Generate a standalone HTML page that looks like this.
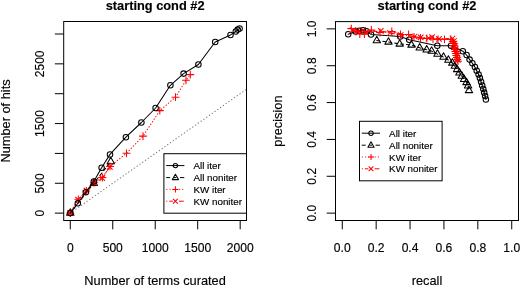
<!DOCTYPE html>
<html><head><meta charset="utf-8"><style>
html,body{margin:0;padding:0;background:#fff;overflow:hidden;}
svg{display:block;will-change:transform;}
text{font-family:"Liberation Sans",sans-serif;fill:#000;stroke:#000;stroke-width:0.15px;}
</style></head><body>
<svg width="520" height="286" viewBox="0 0 520 286">
<rect width="520" height="286" fill="#fff"/>
<clipPath id="c63"><rect x="63.7" y="21.5" width="182.8" height="199.0"/></clipPath>
<g clip-path="url(#c63)">
<path d="M70.28 213.13L257.17 81.77" stroke="#777" stroke-width="1.1" stroke-linecap="round" stroke-dasharray="0.3 3.1"/>
<polyline points="70.3,213.1 93.8,183.3 110.8,161.6" fill="none" stroke="#000" stroke-width="1.05" stroke-linecap="round" stroke-linejoin="round" stroke-dasharray="3 3"/>
<polygon points="70.3,208.82 74,215.24 66.6,215.24" fill="none" stroke="#000" stroke-width="1.05" stroke-linejoin="round"/>
<polygon points="93.8,179.02 97.5,185.44 90.1,185.44" fill="none" stroke="#000" stroke-width="1.05" stroke-linejoin="round"/>
<polygon points="110.8,157.32 114.5,163.74 107.1,163.74" fill="none" stroke="#000" stroke-width="1.05" stroke-linejoin="round"/>
<polyline points="70.3,213.1 78.1,199.6 86.5,190.7 94.1,182.6 102.3,178.2 109.8,166.8" fill="none" stroke="#f00" stroke-width="1.05" stroke-linecap="round" stroke-linejoin="round" stroke-dasharray="0.3 2.9 3 2.9"/>
<path d="M67.55 210.35L73.05 215.85M67.55 215.85L73.05 210.35" stroke="#f00" stroke-width="1.05" fill="none"/>
<path d="M75.35 196.85L80.85 202.35M75.35 202.35L80.85 196.85" stroke="#f00" stroke-width="1.05" fill="none"/>
<path d="M83.75 187.95L89.25 193.45M83.75 193.45L89.25 187.95" stroke="#f00" stroke-width="1.05" fill="none"/>
<path d="M91.35 179.85L96.85 185.35M91.35 185.35L96.85 179.85" stroke="#f00" stroke-width="1.05" fill="none"/>
<path d="M99.55 175.45L105.05 180.95M99.55 180.95L105.05 175.45" stroke="#f00" stroke-width="1.05" fill="none"/>
<path d="M107.05 164.05L112.55 169.55M107.05 169.55L112.55 164.05" stroke="#f00" stroke-width="1.05" fill="none"/>
<polyline points="70.3,213.1 78.3,199.3 86.3,191 94,182.8 102.4,177.5 110,166.4 126.5,153.3 143,136.1 159.8,110.6 175.5,97.2 186,80.3 190.3,74.6" fill="none" stroke="#f00" stroke-width="1.05" stroke-linecap="round" stroke-linejoin="round" stroke-dasharray="0.5 2.6"/>
<path d="M66.41 213.1H74.19M70.3 209.21V216.99" stroke="#f00" stroke-width="1.05" fill="none"/>
<path d="M74.41 199.3H82.19M78.3 195.41V203.19" stroke="#f00" stroke-width="1.05" fill="none"/>
<path d="M82.41 191H90.19M86.3 187.11V194.89" stroke="#f00" stroke-width="1.05" fill="none"/>
<path d="M90.11 182.8H97.89M94 178.91V186.69" stroke="#f00" stroke-width="1.05" fill="none"/>
<path d="M98.51 177.5H106.29M102.4 173.61V181.39" stroke="#f00" stroke-width="1.05" fill="none"/>
<path d="M106.11 166.4H113.89M110 162.51V170.29" stroke="#f00" stroke-width="1.05" fill="none"/>
<path d="M122.61 153.3H130.39M126.5 149.41V157.19" stroke="#f00" stroke-width="1.05" fill="none"/>
<path d="M139.11 136.1H146.89M143 132.21V139.99" stroke="#f00" stroke-width="1.05" fill="none"/>
<path d="M155.91 110.6H163.69M159.8 106.71V114.49" stroke="#f00" stroke-width="1.05" fill="none"/>
<path d="M171.61 97.2H179.39M175.5 93.31V101.09" stroke="#f00" stroke-width="1.05" fill="none"/>
<path d="M182.11 80.3H189.89M186 76.41V84.19" stroke="#f00" stroke-width="1.05" fill="none"/>
<path d="M186.41 74.6H194.19M190.3 70.71V78.49" stroke="#f00" stroke-width="1.05" fill="none"/>
<polyline points="70.3,213.1 77.8,203.3 85.8,192.2 93.8,181.5 101.6,167.8 110,154.4 125.9,137.2 141.4,122.5 155.6,108 170.4,85.3 183.6,73.6 198.4,64.5 215.2,42 230.5,34.9 235.8,31.5 237.7,29.6 239.6,28.5" fill="none" stroke="#000" stroke-width="1.05" stroke-linecap="round" stroke-linejoin="round"/>
<circle cx="70.3" cy="213.1" r="2.75" fill="none" stroke="#000" stroke-width="1.05"/>
<circle cx="77.8" cy="203.3" r="2.75" fill="none" stroke="#000" stroke-width="1.05"/>
<circle cx="85.8" cy="192.2" r="2.75" fill="none" stroke="#000" stroke-width="1.05"/>
<circle cx="93.8" cy="181.5" r="2.75" fill="none" stroke="#000" stroke-width="1.05"/>
<circle cx="101.6" cy="167.8" r="2.75" fill="none" stroke="#000" stroke-width="1.05"/>
<circle cx="110" cy="154.4" r="2.75" fill="none" stroke="#000" stroke-width="1.05"/>
<circle cx="125.9" cy="137.2" r="2.75" fill="none" stroke="#000" stroke-width="1.05"/>
<circle cx="141.4" cy="122.5" r="2.75" fill="none" stroke="#000" stroke-width="1.05"/>
<circle cx="155.6" cy="108" r="2.75" fill="none" stroke="#000" stroke-width="1.05"/>
<circle cx="170.4" cy="85.3" r="2.75" fill="none" stroke="#000" stroke-width="1.05"/>
<circle cx="183.6" cy="73.6" r="2.75" fill="none" stroke="#000" stroke-width="1.05"/>
<circle cx="198.4" cy="64.5" r="2.75" fill="none" stroke="#000" stroke-width="1.05"/>
<circle cx="215.2" cy="42" r="2.75" fill="none" stroke="#000" stroke-width="1.05"/>
<circle cx="230.5" cy="34.9" r="2.75" fill="none" stroke="#000" stroke-width="1.05"/>
<circle cx="235.8" cy="31.5" r="2.75" fill="none" stroke="#000" stroke-width="1.05"/>
<circle cx="237.7" cy="29.6" r="2.75" fill="none" stroke="#000" stroke-width="1.05"/>
<circle cx="239.6" cy="28.5" r="2.75" fill="none" stroke="#000" stroke-width="1.05"/>
</g>
<rect x="63.7" y="21.5" width="182.8" height="199.0" fill="none" stroke="#000" stroke-width="1"/>
<path d="M70.28 220.5V229.3M112.75 220.5V229.3M155.23 220.5V229.3M197.7 220.5V229.3M240.18 220.5V229.3M63.7 213.13H54.9M63.7 183.28H54.9M63.7 153.42H54.9M63.7 123.56H54.9M63.7 93.71H54.9M63.7 63.85H54.9M63.7 34H54.9" stroke="#000" stroke-width="1" fill="none"/>
<text x="70.28" y="252.2" font-size="12.1" text-anchor="middle">0</text>
<text x="112.75" y="252.2" font-size="12.1" text-anchor="middle">500</text>
<text x="155.23" y="252.2" font-size="12.1" text-anchor="middle">1000</text>
<text x="197.7" y="252.2" font-size="12.1" text-anchor="middle">1500</text>
<text x="240.18" y="252.2" font-size="12.1" text-anchor="middle">2000</text>
<text x="43.9" y="213.13" font-size="12.1" text-anchor="middle" transform="rotate(-90 43.9 213.13)">0</text>
<text x="43.9" y="183.28" font-size="12.1" text-anchor="middle" transform="rotate(-90 43.9 183.28)">500</text>
<text x="43.9" y="123.56" font-size="12.1" text-anchor="middle" transform="rotate(-90 43.9 123.56)">1500</text>
<text x="43.9" y="63.85" font-size="12.1" text-anchor="middle" transform="rotate(-90 43.9 63.85)">2500</text>
<text x="155.1" y="9.7" font-size="12.8" text-anchor="middle" font-weight="bold">starting cond #2</text>
<text x="155.1" y="284.6" font-size="12.8" text-anchor="middle">Number of terms curated</text>
<text x="9.9" y="121" font-size="12.8" text-anchor="middle" transform="rotate(-90 9.9 121)">Number of hits</text>
<rect x="163.9" y="153.7" width="82.6" height="59.5" fill="#fff" stroke="#000" stroke-width="1"/>
<path d="M166.2 165.6H184.4" stroke="#000" stroke-width="1"/>
<circle cx="175.4" cy="165.6" r="2.2" fill="none" stroke="#000" stroke-width="1.05"/>
<path d="M166.2 177.6H170.1M173.9 177.6H176.4M180 177.6H184.3" stroke="#000" stroke-width="1"/>
<polygon points="175.4,174.21 178.51,179.6 172.29,179.6" fill="none" stroke="#000" stroke-width="1.05" stroke-linejoin="round"/>
<path d="M166.3 189.4h1M169.5 189.4h1M172.7 189.4h1M175.9 189.4h1M179.1 189.4h1M182.3 189.4h1" stroke="#f00" stroke-width="1"/>
<path d="M172.29 189.4H178.51M175.4 186.29V192.51" stroke="#f00" stroke-width="1.05" fill="none"/>
<path d="M166.3 201.2h1M169.3 201.2H172.8M174.9 201.2h1M179 201.2H183.8" stroke="#f00" stroke-width="1"/>
<path d="M173.06 198.86L177.74 203.54M173.06 203.54L177.74 198.86" stroke="#f00" stroke-width="1.05" fill="none"/>
<text x="193.5" y="169.2" font-size="9.8" text-anchor="start">All iter</text>
<text x="193.5" y="181.2" font-size="9.8" text-anchor="start">All noniter</text>
<text x="193.5" y="193" font-size="9.8" text-anchor="start">KW iter</text>
<text x="193.5" y="204.8" font-size="9.8" text-anchor="start">KW noniter</text>
<clipPath id="c335"><rect x="335.5" y="21.6" width="183.0" height="198.9"/></clipPath>
<g clip-path="url(#c335)">
<polyline points="376.8,40.6 388.5,42 399.7,44 411.5,45 419.7,47.8 426.7,49.8 431.6,51.1 437.5,54.1 443.5,57.1 448.4,60.1 452.3,63 454.8,66.2 457.1,69.5 459.4,72.8 461.8,76.1 464.1,79.3 466.5,82.5 468.1,85.8 469,90.5" fill="none" stroke="#000" stroke-width="1.05" stroke-linecap="round" stroke-linejoin="round" stroke-dasharray="3 3"/>
<polygon points="376.8,36.32 380.5,42.74 373.1,42.74" fill="none" stroke="#000" stroke-width="1.05" stroke-linejoin="round"/>
<polygon points="388.5,37.72 392.2,44.14 384.8,44.14" fill="none" stroke="#000" stroke-width="1.05" stroke-linejoin="round"/>
<polygon points="399.7,39.72 403.4,46.14 396,46.14" fill="none" stroke="#000" stroke-width="1.05" stroke-linejoin="round"/>
<polygon points="411.5,40.72 415.2,47.14 407.8,47.14" fill="none" stroke="#000" stroke-width="1.05" stroke-linejoin="round"/>
<polygon points="419.7,43.52 423.4,49.94 416,49.94" fill="none" stroke="#000" stroke-width="1.05" stroke-linejoin="round"/>
<polygon points="426.7,45.52 430.4,51.94 423,51.94" fill="none" stroke="#000" stroke-width="1.05" stroke-linejoin="round"/>
<polygon points="431.6,46.82 435.3,53.24 427.9,53.24" fill="none" stroke="#000" stroke-width="1.05" stroke-linejoin="round"/>
<polygon points="437.5,49.82 441.2,56.24 433.8,56.24" fill="none" stroke="#000" stroke-width="1.05" stroke-linejoin="round"/>
<polygon points="443.5,52.82 447.2,59.24 439.8,59.24" fill="none" stroke="#000" stroke-width="1.05" stroke-linejoin="round"/>
<polygon points="448.4,55.82 452.1,62.24 444.7,62.24" fill="none" stroke="#000" stroke-width="1.05" stroke-linejoin="round"/>
<polygon points="452.3,58.72 456,65.14 448.6,65.14" fill="none" stroke="#000" stroke-width="1.05" stroke-linejoin="round"/>
<polygon points="454.8,61.92 458.5,68.34 451.1,68.34" fill="none" stroke="#000" stroke-width="1.05" stroke-linejoin="round"/>
<polygon points="457.1,65.22 460.8,71.64 453.4,71.64" fill="none" stroke="#000" stroke-width="1.05" stroke-linejoin="round"/>
<polygon points="459.4,68.52 463.1,74.94 455.7,74.94" fill="none" stroke="#000" stroke-width="1.05" stroke-linejoin="round"/>
<polygon points="461.8,71.82 465.5,78.24 458.1,78.24" fill="none" stroke="#000" stroke-width="1.05" stroke-linejoin="round"/>
<polygon points="464.1,75.02 467.8,81.44 460.4,81.44" fill="none" stroke="#000" stroke-width="1.05" stroke-linejoin="round"/>
<polygon points="466.5,78.22 470.2,84.64 462.8,84.64" fill="none" stroke="#000" stroke-width="1.05" stroke-linejoin="round"/>
<polygon points="468.1,81.52 471.8,87.94 464.4,87.94" fill="none" stroke="#000" stroke-width="1.05" stroke-linejoin="round"/>
<polygon points="469,86.22 472.7,92.64 465.3,92.64" fill="none" stroke="#000" stroke-width="1.05" stroke-linejoin="round"/>
<polyline points="348.2,34.2 355.5,31.5 359.3,30.8 363,30.2 366.5,31.2 371,34.4 400.2,36.5 409.2,39.8 437.3,45.8 451,45.8 462.8,51.2 466.6,55 469.6,59.6 472.4,63.3 474.9,67 476.7,70.7 478.6,74.4 479.9,78.1 481.1,81.8 482.2,85.4 483.3,89 484.2,92.6 485.1,96 485.9,99.5" fill="none" stroke="#000" stroke-width="1.05" stroke-linecap="round" stroke-linejoin="round"/>
<circle cx="348.2" cy="34.2" r="2.75" fill="none" stroke="#000" stroke-width="1.05"/>
<circle cx="355.5" cy="31.5" r="2.75" fill="none" stroke="#000" stroke-width="1.05"/>
<circle cx="359.3" cy="30.8" r="2.75" fill="none" stroke="#000" stroke-width="1.05"/>
<circle cx="363" cy="30.2" r="2.75" fill="none" stroke="#000" stroke-width="1.05"/>
<circle cx="366.5" cy="31.2" r="2.75" fill="none" stroke="#000" stroke-width="1.05"/>
<circle cx="371" cy="34.4" r="2.75" fill="none" stroke="#000" stroke-width="1.05"/>
<circle cx="400.2" cy="36.5" r="2.75" fill="none" stroke="#000" stroke-width="1.05"/>
<circle cx="409.2" cy="39.8" r="2.75" fill="none" stroke="#000" stroke-width="1.05"/>
<circle cx="437.3" cy="45.8" r="2.75" fill="none" stroke="#000" stroke-width="1.05"/>
<circle cx="451" cy="45.8" r="2.75" fill="none" stroke="#000" stroke-width="1.05"/>
<circle cx="462.8" cy="51.2" r="2.75" fill="none" stroke="#000" stroke-width="1.05"/>
<circle cx="466.6" cy="55" r="2.75" fill="none" stroke="#000" stroke-width="1.05"/>
<circle cx="469.6" cy="59.6" r="2.75" fill="none" stroke="#000" stroke-width="1.05"/>
<circle cx="472.4" cy="63.3" r="2.75" fill="none" stroke="#000" stroke-width="1.05"/>
<circle cx="474.9" cy="67" r="2.75" fill="none" stroke="#000" stroke-width="1.05"/>
<circle cx="476.7" cy="70.7" r="2.75" fill="none" stroke="#000" stroke-width="1.05"/>
<circle cx="478.6" cy="74.4" r="2.75" fill="none" stroke="#000" stroke-width="1.05"/>
<circle cx="479.9" cy="78.1" r="2.75" fill="none" stroke="#000" stroke-width="1.05"/>
<circle cx="481.1" cy="81.8" r="2.75" fill="none" stroke="#000" stroke-width="1.05"/>
<circle cx="482.2" cy="85.4" r="2.75" fill="none" stroke="#000" stroke-width="1.05"/>
<circle cx="483.3" cy="89" r="2.75" fill="none" stroke="#000" stroke-width="1.05"/>
<circle cx="484.2" cy="92.6" r="2.75" fill="none" stroke="#000" stroke-width="1.05"/>
<circle cx="485.1" cy="96" r="2.75" fill="none" stroke="#000" stroke-width="1.05"/>
<circle cx="485.9" cy="99.5" r="2.75" fill="none" stroke="#000" stroke-width="1.05"/>
<polyline points="351.3,28.6 356,31.5 359.8,34 364.4,34 371.4,30 380,32.5 391.8,31.4 400.5,34.5 408.6,34.5 414,37 420.5,38 426.8,38.5 433,39 438,39.3 444.5,39.3 450.8,39.3 452.8,41.5 453.3,43.5 453.8,45.5 454.3,47.5 454.8,49.5 455.3,51.5 455.8,53.5 456.3,55.5 456.8,57.5 457.3,59.5 458,61.2" fill="none" stroke="rgba(255,0,0,0.45)" stroke-width="1.2" stroke-linecap="round" stroke-linejoin="round"/>
<polyline points="353,30 357,31 363,30 366,32 380.8,30.9 390,33 400.7,35 414.6,36.5 420.7,37.3 428.6,38 432.1,37.2 439,38.8 452.5,38.5 454,41 454.6,43.5 455.2,46 455.8,48.5 456.4,51 456.8,53.5 457.2,56 457.5,58.5 457.8,60" fill="none" stroke="#f00" stroke-width="1.05" stroke-linecap="round" stroke-linejoin="round" stroke-dasharray="0.3 2.9 3 2.9"/>
<path d="M350.25 27.25L355.75 32.75M350.25 32.75L355.75 27.25" stroke="#f00" stroke-width="1.05" fill="none"/>
<path d="M354.25 28.25L359.75 33.75M354.25 33.75L359.75 28.25" stroke="#f00" stroke-width="1.05" fill="none"/>
<path d="M360.25 27.25L365.75 32.75M360.25 32.75L365.75 27.25" stroke="#f00" stroke-width="1.05" fill="none"/>
<path d="M363.25 29.25L368.75 34.75M363.25 34.75L368.75 29.25" stroke="#f00" stroke-width="1.05" fill="none"/>
<path d="M378.05 28.15L383.55 33.65M378.05 33.65L383.55 28.15" stroke="#f00" stroke-width="1.05" fill="none"/>
<path d="M387.25 30.25L392.75 35.75M387.25 35.75L392.75 30.25" stroke="#f00" stroke-width="1.05" fill="none"/>
<path d="M397.95 32.25L403.45 37.75M397.95 37.75L403.45 32.25" stroke="#f00" stroke-width="1.05" fill="none"/>
<path d="M411.85 33.75L417.35 39.25M411.85 39.25L417.35 33.75" stroke="#f00" stroke-width="1.05" fill="none"/>
<path d="M417.95 34.55L423.45 40.05M417.95 40.05L423.45 34.55" stroke="#f00" stroke-width="1.05" fill="none"/>
<path d="M425.85 35.25L431.35 40.75M425.85 40.75L431.35 35.25" stroke="#f00" stroke-width="1.05" fill="none"/>
<path d="M429.35 34.45L434.85 39.95M429.35 39.95L434.85 34.45" stroke="#f00" stroke-width="1.05" fill="none"/>
<path d="M436.25 36.05L441.75 41.55M436.25 41.55L441.75 36.05" stroke="#f00" stroke-width="1.05" fill="none"/>
<path d="M449.75 35.75L455.25 41.25M449.75 41.25L455.25 35.75" stroke="#f00" stroke-width="1.05" fill="none"/>
<path d="M451.25 38.25L456.75 43.75M451.25 43.75L456.75 38.25" stroke="#f00" stroke-width="1.05" fill="none"/>
<path d="M451.85 40.75L457.35 46.25M451.85 46.25L457.35 40.75" stroke="#f00" stroke-width="1.05" fill="none"/>
<path d="M452.45 43.25L457.95 48.75M452.45 48.75L457.95 43.25" stroke="#f00" stroke-width="1.05" fill="none"/>
<path d="M453.05 45.75L458.55 51.25M453.05 51.25L458.55 45.75" stroke="#f00" stroke-width="1.05" fill="none"/>
<path d="M453.65 48.25L459.15 53.75M453.65 53.75L459.15 48.25" stroke="#f00" stroke-width="1.05" fill="none"/>
<path d="M454.05 50.75L459.55 56.25M454.05 56.25L459.55 50.75" stroke="#f00" stroke-width="1.05" fill="none"/>
<path d="M454.45 53.25L459.95 58.75M454.45 58.75L459.95 53.25" stroke="#f00" stroke-width="1.05" fill="none"/>
<path d="M454.75 55.75L460.25 61.25M454.75 61.25L460.25 55.75" stroke="#f00" stroke-width="1.05" fill="none"/>
<path d="M455.05 57.25L460.55 62.75M455.05 62.75L460.55 57.25" stroke="#f00" stroke-width="1.05" fill="none"/>
<polyline points="351.3,28.6 356,31.5 359.8,34 364.4,34 371.4,30 380,32.5 391.8,31.4 400.5,34.5 408.6,34.5 414,37 420.5,38 426.8,38.5 433,39 438,39.3 444.5,39.3 450.8,39.3 452.8,41.5 453.3,43.5 453.8,45.5 454.3,47.5 454.8,49.5 455.3,51.5 455.8,53.5 456.3,55.5 456.8,57.5 457.3,59.5 458,61.2" fill="none" stroke="#f00" stroke-width="1.05" stroke-linecap="round" stroke-linejoin="round" stroke-dasharray="0.5 2.6"/>
<path d="M347.41 28.6H355.19M351.3 24.71V32.49" stroke="#f00" stroke-width="1.05" fill="none"/>
<path d="M352.11 31.5H359.89M356 27.61V35.39" stroke="#f00" stroke-width="1.05" fill="none"/>
<path d="M355.91 34H363.69M359.8 30.11V37.89" stroke="#f00" stroke-width="1.05" fill="none"/>
<path d="M360.51 34H368.29M364.4 30.11V37.89" stroke="#f00" stroke-width="1.05" fill="none"/>
<path d="M367.51 30H375.29M371.4 26.11V33.89" stroke="#f00" stroke-width="1.05" fill="none"/>
<path d="M376.11 32.5H383.89M380 28.61V36.39" stroke="#f00" stroke-width="1.05" fill="none"/>
<path d="M387.91 31.4H395.69M391.8 27.51V35.29" stroke="#f00" stroke-width="1.05" fill="none"/>
<path d="M396.61 34.5H404.39M400.5 30.61V38.39" stroke="#f00" stroke-width="1.05" fill="none"/>
<path d="M404.71 34.5H412.49M408.6 30.61V38.39" stroke="#f00" stroke-width="1.05" fill="none"/>
<path d="M410.11 37H417.89M414 33.11V40.89" stroke="#f00" stroke-width="1.05" fill="none"/>
<path d="M416.61 38H424.39M420.5 34.11V41.89" stroke="#f00" stroke-width="1.05" fill="none"/>
<path d="M422.91 38.5H430.69M426.8 34.61V42.39" stroke="#f00" stroke-width="1.05" fill="none"/>
<path d="M429.11 39H436.89M433 35.11V42.89" stroke="#f00" stroke-width="1.05" fill="none"/>
<path d="M434.11 39.3H441.89M438 35.41V43.19" stroke="#f00" stroke-width="1.05" fill="none"/>
<path d="M440.61 39.3H448.39M444.5 35.41V43.19" stroke="#f00" stroke-width="1.05" fill="none"/>
<path d="M446.91 39.3H454.69M450.8 35.41V43.19" stroke="#f00" stroke-width="1.05" fill="none"/>
<path d="M448.91 41.5H456.69M452.8 37.61V45.39" stroke="#f00" stroke-width="1.05" fill="none"/>
<path d="M449.41 43.5H457.19M453.3 39.61V47.39" stroke="#f00" stroke-width="1.05" fill="none"/>
<path d="M449.91 45.5H457.69M453.8 41.61V49.39" stroke="#f00" stroke-width="1.05" fill="none"/>
<path d="M450.41 47.5H458.19M454.3 43.61V51.39" stroke="#f00" stroke-width="1.05" fill="none"/>
<path d="M450.91 49.5H458.69M454.8 45.61V53.39" stroke="#f00" stroke-width="1.05" fill="none"/>
<path d="M451.41 51.5H459.19M455.3 47.61V55.39" stroke="#f00" stroke-width="1.05" fill="none"/>
<path d="M451.91 53.5H459.69M455.8 49.61V57.39" stroke="#f00" stroke-width="1.05" fill="none"/>
<path d="M452.41 55.5H460.19M456.3 51.61V59.39" stroke="#f00" stroke-width="1.05" fill="none"/>
<path d="M452.91 57.5H460.69M456.8 53.61V61.39" stroke="#f00" stroke-width="1.05" fill="none"/>
<path d="M453.41 59.5H461.19M457.3 55.61V63.39" stroke="#f00" stroke-width="1.05" fill="none"/>
<path d="M454.11 61.2H461.89M458 57.31V65.09" stroke="#f00" stroke-width="1.05" fill="none"/>
</g>
<rect x="335.5" y="21.6" width="183.0" height="198.9" fill="none" stroke="#000" stroke-width="1"/>
<path d="M342.28 220.5V229.3M376.17 220.5V229.3M410.06 220.5V229.3M443.94 220.5V229.3M477.83 220.5V229.3M511.72 220.5V229.3M335.5 213.13H326.7M335.5 176.28H326.7M335.5 139.43H326.7M335.5 102.57H326.7M335.5 65.72H326.7M335.5 28.87H326.7" stroke="#000" stroke-width="1" fill="none"/>
<text x="342.28" y="252.2" font-size="12.1" text-anchor="middle">0.0</text>
<text x="376.17" y="252.2" font-size="12.1" text-anchor="middle">0.2</text>
<text x="410.06" y="252.2" font-size="12.1" text-anchor="middle">0.4</text>
<text x="443.94" y="252.2" font-size="12.1" text-anchor="middle">0.6</text>
<text x="477.83" y="252.2" font-size="12.1" text-anchor="middle">0.8</text>
<text x="511.72" y="252.2" font-size="12.1" text-anchor="middle">1.0</text>
<text x="315.7" y="213.13" font-size="12.1" text-anchor="middle" transform="rotate(-90 315.7 213.13)">0.0</text>
<text x="315.7" y="176.28" font-size="12.1" text-anchor="middle" transform="rotate(-90 315.7 176.28)">0.2</text>
<text x="315.7" y="139.43" font-size="12.1" text-anchor="middle" transform="rotate(-90 315.7 139.43)">0.4</text>
<text x="315.7" y="102.57" font-size="12.1" text-anchor="middle" transform="rotate(-90 315.7 102.57)">0.6</text>
<text x="315.7" y="65.72" font-size="12.1" text-anchor="middle" transform="rotate(-90 315.7 65.72)">0.8</text>
<text x="315.7" y="28.87" font-size="12.1" text-anchor="middle" transform="rotate(-90 315.7 28.87)">1.0</text>
<text x="427" y="9.7" font-size="12.8" text-anchor="middle" font-weight="bold">starting cond #2</text>
<text x="427" y="284.6" font-size="12.8" text-anchor="middle">recall</text>
<text x="281.7" y="121.05" font-size="12.8" text-anchor="middle" transform="rotate(-90 281.7 121.05)">precision</text>
<rect x="359.5" y="121.3" width="82.6" height="59.5" fill="#fff" stroke="#000" stroke-width="1"/>
<path d="M361.8 133.2H380" stroke="#000" stroke-width="1"/>
<circle cx="371" cy="133.2" r="2.2" fill="none" stroke="#000" stroke-width="1.05"/>
<path d="M361.8 145.2H365.7M369.5 145.2H372M375.6 145.2H379.9" stroke="#000" stroke-width="1"/>
<polygon points="371,141.81 374.11,147.2 367.89,147.2" fill="none" stroke="#000" stroke-width="1.05" stroke-linejoin="round"/>
<path d="M361.9 157h1M365.1 157h1M368.3 157h1M371.5 157h1M374.7 157h1M377.9 157h1" stroke="#f00" stroke-width="1"/>
<path d="M367.89 157H374.11M371 153.89V160.11" stroke="#f00" stroke-width="1.05" fill="none"/>
<path d="M361.9 168.8h1M364.9 168.8H368.4M370.5 168.8h1M374.6 168.8H379.4" stroke="#f00" stroke-width="1"/>
<path d="M368.66 166.46L373.34 171.14M368.66 171.14L373.34 166.46" stroke="#f00" stroke-width="1.05" fill="none"/>
<text x="389.1" y="136.8" font-size="9.8" text-anchor="start">All iter</text>
<text x="389.1" y="148.8" font-size="9.8" text-anchor="start">All noniter</text>
<text x="389.1" y="160.6" font-size="9.8" text-anchor="start">KW iter</text>
<text x="389.1" y="172.4" font-size="9.8" text-anchor="start">KW noniter</text>
</svg>
</body></html>
